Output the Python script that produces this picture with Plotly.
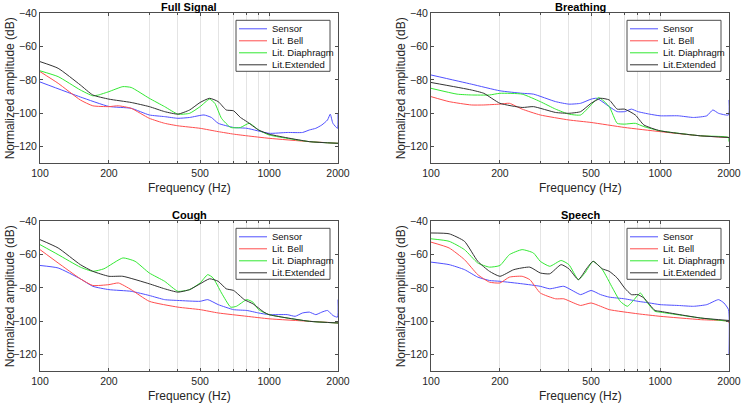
import plotly.graph_objects as go

panel_titles = ["Full Signal", "Breathing", "Cough", "Speech"]
series_names = ["Sensor", "Lit. Bell", "Lit. Diaphragm", "Lit.Extended"]
series_colors = ["#5050ff", "#ff4d4d", "#33e833", "#333333"]
x_title = "Frequency (Hz)"
y_title = "Normalized amplitude (dB)"

# ---- Full Signal ----
fs_sensor_f = [100, 150, 200, 250, 300, 350, 400, 450, 520, 560, 600, 700, 800, 1000, 1200, 1400, 1500, 1600, 1700, 1800, 1850, 1900, 1990, 2000]
fs_sensor_v = [-81.2, -90.2, -95.9, -97, -101, -102, -103, -102.5, -101, -102.5, -106, -108.5, -109, -112, -111.5, -111.5, -110, -109, -107, -104, -100.5, -106, -109, -100]
fs_bell_f = [100, 120, 150, 170, 200, 220, 250, 300, 350, 400, 500, 600, 700, 800, 1000, 1500, 2000]
fs_bell_v = [-75, -82, -92, -95.5, -96, -95.5, -97, -103, -106, -107.5, -109, -111, -112.5, -113.5, -115, -117, -118]
fs_dia_f = [100, 120, 150, 170, 180, 200, 230, 250, 300, 350, 400, 450, 500, 550, 580, 620, 680, 750, 820, 900, 1000, 1500, 2000]
fs_dia_v = [-74.5, -78, -86, -89.5, -89, -87, -84, -84.5, -91, -96, -100.5, -100, -96, -91.5, -94, -103, -108.5, -108.5, -106, -110, -113, -117, -118]
fs_ext_f = [100, 120, 150, 170, 200, 250, 300, 350, 400, 450, 500, 550, 600, 650, 700, 750, 800, 900, 1000, 1500, 2000]
fs_ext_v = [-69, -73, -83, -89, -91.5, -93.5, -96, -99, -100.5, -98, -93.5, -91, -93, -98, -98.5, -102.5, -105, -110, -112.5, -117, -118]

# ---- Breathing ----
br_sensor_f = [100, 150, 200, 250, 280, 350, 400, 450, 500, 530, 600, 650, 700, 750, 800, 900, 1000, 1200, 1400, 1600, 1700, 1800, 1990, 2000]
br_sensor_v = [-77, -82.5, -86.5, -88, -88.5, -93, -94.5, -94, -91.5, -91, -96, -99, -99, -97.5, -99, -100.5, -101.5, -101.5, -102.5, -101.5, -98, -100, -101, -92]
br_bell_f = [100, 120, 150, 170, 200, 220, 250, 300, 400, 500, 700, 1000, 1500, 2000]
br_bell_v = [-90, -93, -95, -95, -94.5, -94, -97.5, -101, -104, -105.5, -108.5, -111, -113.5, -114.5]
br_dia_f = [100, 130, 150, 180, 200, 250, 300, 350, 400, 450, 500, 540, 600, 650, 700, 780, 850, 1000, 1500, 1990, 2000]
br_dia_v = [-85, -88.5, -89, -89, -88, -88.5, -93, -97.5, -100.5, -101, -95, -90.5, -96, -106, -106.5, -106, -108, -110.5, -113.5, -114.5, -117]
br_ext_f = [100, 150, 170, 200, 250, 280, 350, 400, 450, 500, 550, 600, 650, 700, 780, 850, 1000, 1500, 2000]
br_ext_v = [-81.5, -86, -88, -94, -96.5, -96, -99.5, -100, -99, -94, -91, -92, -97.5, -97.5, -101, -107, -110.5, -113.5, -114.5]

# ---- Cough ----
co_sensor_f = [100, 120, 150, 170, 200, 250, 300, 350, 400, 500, 540, 600, 700, 800, 900, 1000, 1200, 1300, 1400, 1500, 1600, 1700, 1800, 1900, 1990, 2000]
co_sensor_v = [-66.5, -68, -74.5, -79, -81, -82, -84.5, -87, -87.5, -88, -87, -90, -93, -93.5, -95, -96, -96, -97, -95, -94.5, -96, -94.5, -93.5, -96.5, -97.5, -87]
co_bell_f = [100, 120, 150, 170, 200, 220, 250, 300, 400, 500, 600, 800, 1000, 1500, 2000]
co_bell_v = [-57, -65, -74.5, -78.5, -78, -77, -81, -88, -91.5, -93, -95, -97, -98.5, -100, -101]
co_dia_f = [100, 120, 150, 170, 190, 230, 260, 300, 350, 400, 450, 500, 540, 570, 620, 680, 720, 800, 850, 900, 1000, 1500, 2000]
co_dia_v = [-54, -60, -67.5, -70, -68.5, -62, -64, -71, -76, -82, -81, -77, -72, -74, -83, -91.5, -91, -87, -88.5, -93, -96, -100, -101]
co_ext_f = [100, 120, 150, 170, 200, 230, 300, 350, 400, 450, 500, 550, 600, 650, 700, 780, 850, 950, 1000, 1500, 2000]
co_ext_v = [-51, -56, -66, -70, -73, -73, -77.5, -80.5, -82.5, -81, -77.5, -74.5, -76, -80.5, -81.5, -87, -89.5, -94.5, -96, -100, -101]

# ---- Speech ----
sp_sensor_f = [100, 120, 140, 160, 180, 200, 250, 300, 330, 380, 420, 450, 500, 550, 600, 700, 800, 900, 1000, 1200, 1400, 1600, 1800, 1900, 1990, 2000]
sp_sensor_v = [-64.5, -66, -69, -73.5, -75.5, -76, -77.5, -79, -80.5, -79, -82, -84, -81.5, -84, -85.5, -86.5, -88, -89, -90, -90.5, -91, -90, -87, -89, -93, -120]
sp_bell_f = [100, 120, 140, 160, 180, 200, 220, 250, 270, 300, 350, 380, 420, 450, 500, 550, 600, 800, 1000, 1500, 1990, 2000]
sp_bell_v = [-52.5, -56, -63, -72, -76.5, -77, -73.5, -73, -75, -83, -86.5, -86.5, -89, -90.5, -89, -91, -93, -95.5, -97, -99, -100, -101]
sp_dia_f = [100, 120, 140, 160, 180, 200, 220, 250, 280, 300, 330, 370, 400, 440, 470, 510, 560, 620, 670, 720, 770, 820, 870, 950, 1000, 1500, 2000]
sp_dia_v = [-50.5, -52, -57, -65, -67.5, -66.5, -60, -57, -59, -64, -67, -63.5, -66, -75, -71, -64, -69, -80, -88, -91, -87, -83, -88, -94, -94.5, -98, -100]
sp_ext_f = [100, 120, 140, 160, 180, 200, 230, 270, 300, 330, 370, 400, 440, 480, 510, 560, 600, 650, 700, 750, 800, 850, 950, 1000, 1500, 2000]
sp_ext_v = [-47, -47.5, -52, -64, -70, -73, -69, -67.5, -71, -71.5, -66, -68.5, -75, -68, -64, -68.5, -70, -74, -80, -84, -84, -86, -93.5, -94, -98, -99.5]

panels = [
    [(fs_sensor_f, fs_sensor_v), (fs_bell_f, fs_bell_v), (fs_dia_f, fs_dia_v), (fs_ext_f, fs_ext_v)],
    [(br_sensor_f, br_sensor_v), (br_bell_f, br_bell_v), (br_dia_f, br_dia_v), (br_ext_f, br_ext_v)],
    [(co_sensor_f, co_sensor_v), (co_bell_f, co_bell_v), (co_dia_f, co_dia_v), (co_ext_f, co_ext_v)],
    [(sp_sensor_f, sp_sensor_v), (sp_bell_f, sp_bell_v), (sp_dia_f, sp_dia_v), (sp_ext_f, sp_ext_v)],
]

x_major = [100, 200, 500, 1000, 2000]
x_minor = [300, 400, 600, 700, 800, 900]
y_ticks = [-40, -60, -80, -100, -120]

W, H = 742, 403
plot_left = [40, 431]
plot_top = [13.3, 221.3]
PW, PH = 298, 150


def px(x):
    return x / W


def py(y):
    return 1 - y / H


fig = go.Figure()
FONT = "Liberation Sans, Arial, sans-serif"
INK = "#262626"
FRAME = "#4d4d4d"
GRID = "#e4e4e4"
layout = dict(
    width=W, height=H, margin=dict(l=0, r=0, t=0, b=0),
    paper_bgcolor="white", plot_bgcolor="white",
    font=dict(family=FONT, color=INK),
    showlegend=False,
)
annotations = []
shapes = []
for i in range(4):
    r, c = divmod(i, 2)
    sfx = "" if i == 0 else str(i + 1)
    L, T = plot_left[c], plot_top[r]
    xd = [px(L), px(L + PW)]
    yd = [py(T + PH), py(T)]
    for j, (f, v) in enumerate(panels[i]):
        fig.add_trace(go.Scatter(
            x=f, y=v, mode="lines", name=series_names[j],
            line=dict(color=series_colors[j], width=1, shape="spline", smoothing=0.5),
            xaxis="x" + sfx, yaxis="y" + sfx, hoverinfo="skip",
        ))
    layout["xaxis" + sfx] = dict(
        domain=xd, anchor="y" + sfx, type="log", range=[2, 3.30103],
        tickvals=x_major, ticktext=[str(t) for t in x_major],
        ticks="inside", ticklen=3, tickcolor=FRAME, mirror="ticks",
        showline=True, linecolor=FRAME, linewidth=1,
        showgrid=True, gridcolor=GRID, gridwidth=1,
        minor=dict(tickvals=x_minor, showgrid=True, gridcolor=GRID, ticks="inside", ticklen=2, tickcolor=FRAME),
        tickfont=dict(size=10.5, color=INK), zeroline=False, automargin=False,
        fixedrange=True,
    )
    layout["yaxis" + sfx] = dict(
        domain=yd, anchor="x" + sfx, range=[-130, -40],
        tickvals=y_ticks, ticks="inside", ticklen=3, tickcolor=FRAME, mirror="ticks",
        showline=True, linecolor=FRAME, linewidth=1,
        showgrid=False, zeroline=False, tickfont=dict(size=10.5, color=INK), automargin=False,
        fixedrange=True,
    )
    # titles
    annotations.append(dict(
        text="<b>" + panel_titles[i] + "</b>", x=px(L + PW / 2), y=py(T - 6.5),
        xref="paper", yref="paper", xanchor="center", yanchor="middle",
        showarrow=False, font=dict(size=11, color="#000"),
    ))
    annotations.append(dict(
        text=x_title, x=px(L + PW / 2), y=py(T + PH + 25), xref="paper", yref="paper",
        xanchor="center", yanchor="middle", showarrow=False, font=dict(size=12, color=INK),
    ))
    annotations.append(dict(
        text=y_title, x=px(L - 30), y=py(T + PH / 2), xref="paper", yref="paper",
        xanchor="center", yanchor="middle", textangle=-90, showarrow=False,
        font=dict(size=12, color=INK),
    ))
    # legend box
    bx0, bx1 = L + PW - 102, L + PW - 8
    by0, by1 = T + 7, T + 58
    shapes.append(dict(type="rect", xref="paper", yref="paper",
                       x0=px(bx0), x1=px(bx1), y0=py(by1), y1=py(by0),
                       line=dict(color=FRAME, width=1), fillcolor="white", layer="above"))
    for j in range(4):
        yy = by0 + 8.5 + 12 * j
        shapes.append(dict(type="line", xref="paper", yref="paper",
                           x0=px(bx0 + 3), x1=px(bx0 + 31), y0=py(yy), y1=py(yy),
                           line=dict(color=series_colors[j], width=1), layer="above"))
        annotations.append(dict(
            text=series_names[j], x=px(bx0 + 34), y=py(yy), xref="paper", yref="paper",
            xanchor="left", yanchor="middle", showarrow=False,
            font=dict(size=9.5, color="#111"),
        ))
layout["annotations"] = annotations
layout["shapes"] = shapes
fig.update_layout(**layout)
fig.write_html(
    "out.html",
    config={"displayModeBar": False},
    post_script="document.body.style.margin='0';document.body.style.overflow='hidden';",
)
